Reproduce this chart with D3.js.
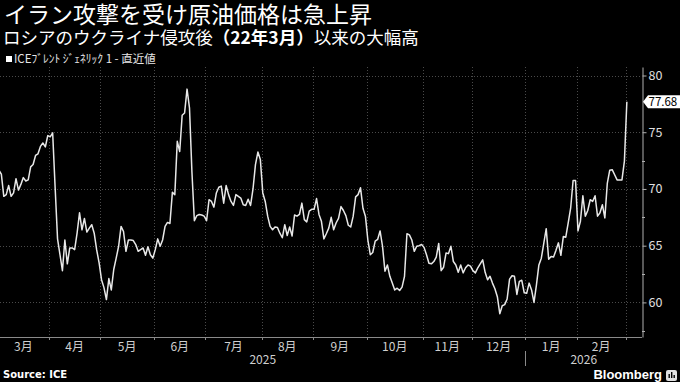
<!DOCTYPE html>
<html>
<head>
<meta charset="utf-8">
<script src="https://cdnjs.cloudflare.com/ajax/libs/d3/7.8.5/d3.min.js"></script>
<style>
  body { margin: 0; background: #000; }
  svg { display: block; }
</style>
</head>
<body>
<svg id="chart" width="680" height="382"></svg>
<script>
// ICE Brent front month, daily settles (trading days only, holidays left out)
const dates = [
  "2025-03-03","2025-03-04","2025-03-05","2025-03-06","2025-03-07","2025-03-10","2025-03-11","2025-03-12","2025-03-13","2025-03-14",
  "2025-03-17","2025-03-18","2025-03-19","2025-03-20","2025-03-21","2025-03-24","2025-03-25","2025-03-26","2025-03-27","2025-03-28","2025-03-31",
  "2025-04-01","2025-04-02","2025-04-03","2025-04-04","2025-04-07","2025-04-08","2025-04-09","2025-04-10","2025-04-11",
  "2025-04-14","2025-04-15","2025-04-16","2025-04-17","2025-04-21","2025-04-22","2025-04-23","2025-04-24","2025-04-25","2025-04-28","2025-04-29","2025-04-30",
  "2025-05-01","2025-05-02","2025-05-05","2025-05-06","2025-05-07","2025-05-08","2025-05-09","2025-05-12","2025-05-13","2025-05-14","2025-05-15","2025-05-16",
  "2025-05-19","2025-05-20","2025-05-21","2025-05-22","2025-05-23","2025-05-26","2025-05-27","2025-05-28","2025-05-29","2025-05-30",
  "2025-06-02","2025-06-03","2025-06-04","2025-06-05","2025-06-06","2025-06-09","2025-06-10","2025-06-11","2025-06-12","2025-06-13",
  "2025-06-16","2025-06-17","2025-06-18","2025-06-19","2025-06-20","2025-06-23","2025-06-24","2025-06-25","2025-06-26","2025-06-27","2025-06-30",
  "2025-07-01","2025-07-02","2025-07-03","2025-07-04","2025-07-07","2025-07-08","2025-07-09","2025-07-10","2025-07-11","2025-07-14","2025-07-15","2025-07-16",
  "2025-07-17","2025-07-18","2025-07-21","2025-07-22","2025-07-23","2025-07-24","2025-07-25","2025-07-28","2025-07-29","2025-07-30","2025-07-31",
  "2025-08-01","2025-08-04","2025-08-05","2025-08-06","2025-08-07","2025-08-08","2025-08-11","2025-08-12","2025-08-13","2025-08-14","2025-08-15",
  "2025-08-18","2025-08-19","2025-08-20","2025-08-21","2025-08-22","2025-08-25","2025-08-26","2025-08-27","2025-08-28","2025-08-29",
  "2025-09-01","2025-09-02","2025-09-03","2025-09-04","2025-09-05","2025-09-08","2025-09-09","2025-09-10","2025-09-11","2025-09-12","2025-09-15",
  "2025-09-16","2025-09-17","2025-09-18","2025-09-19","2025-09-22","2025-09-23","2025-09-24","2025-09-25","2025-09-26","2025-09-29","2025-09-30",
  "2025-10-01","2025-10-02","2025-10-03","2025-10-06","2025-10-07","2025-10-08","2025-10-09","2025-10-10","2025-10-13","2025-10-14","2025-10-15","2025-10-16",
  "2025-10-17","2025-10-20","2025-10-21","2025-10-22","2025-10-23","2025-10-24","2025-10-27","2025-10-28","2025-10-29","2025-10-30","2025-10-31",
  "2025-11-03","2025-11-04","2025-11-05","2025-11-06","2025-11-07","2025-11-10","2025-11-11","2025-11-12","2025-11-13","2025-11-14",
  "2025-11-17","2025-11-18","2025-11-19","2025-11-20","2025-11-21","2025-11-24","2025-11-25","2025-11-26","2025-11-27","2025-11-28",
  "2025-12-01","2025-12-02","2025-12-03","2025-12-04","2025-12-05","2025-12-08","2025-12-09","2025-12-10","2025-12-11","2025-12-12","2025-12-15",
  "2025-12-16","2025-12-17","2025-12-18","2025-12-19","2025-12-22","2025-12-23","2025-12-24","2025-12-26","2025-12-29","2025-12-30","2025-12-31",
  "2026-01-02","2026-01-05","2026-01-06","2026-01-07","2026-01-08","2026-01-09","2026-01-12","2026-01-13","2026-01-14","2026-01-15","2026-01-16",
  "2026-01-19","2026-01-20","2026-01-21","2026-01-22","2026-01-23","2026-01-26","2026-01-27","2026-01-28","2026-01-29","2026-01-30",
  "2026-02-02","2026-02-03","2026-02-04","2026-02-05","2026-02-06","2026-02-09","2026-02-10","2026-02-11","2026-02-12","2026-02-13",
  "2026-02-16","2026-02-17","2026-02-18","2026-02-19","2026-02-20","2026-02-23","2026-02-24","2026-02-25","2026-02-26","2026-02-27",
  "2026-03-02"
];

const brent = [
  71.65,71.3,69.35,69.5,70.3,69.35,69.65,70.9,69.9,70.4,
  71.0,70.7,70.8,71.95,72.15,72.95,73.1,73.75,74.05,73.7,74.7,
  74.6,74.95,70.2,65.6,64.2,62.8,65.5,63.4,64.8,
  64.8,64.65,66.1,67.9,66.4,67.4,66.2,66.55,66.85,66.1,64.65,63.5,
  62.0,61.3,60.25,62.1,61.1,62.9,63.9,64.95,66.7,66.25,64.5,65.5,
  65.5,65.45,65.1,64.5,64.65,64.8,64.15,64.9,64.2,63.9,
  64.65,65.6,64.95,65.5,66.7,67.05,66.95,69.7,69.5,74.2,
  73.3,76.5,76.7,78.8,77.15,71.5,67.2,67.65,67.75,67.7,67.6,
  67.2,69.05,68.9,68.4,69.65,70.15,70.25,68.75,70.3,69.5,68.9,68.55,
  69.5,69.35,69.2,68.6,68.55,69.1,68.55,70.0,72.15,73.25,72.6,
  69.65,68.9,67.6,66.7,66.4,66.65,66.6,66.1,65.7,66.85,65.9,
  66.65,65.85,67.7,67.6,67.75,68.75,67.3,67.1,68.05,68.2,
  68.2,69.15,67.75,67.15,65.6,66.05,66.55,67.5,66.4,67.0,67.4,
  68.45,68.1,67.65,66.8,66.65,67.6,69.3,69.5,70.1,68.3,67.6,
  65.5,64.2,64.4,65.4,65.55,66.3,64.95,62.75,63.3,62.3,61.7,61.1,
  61.25,61.05,61.35,62.3,66.05,65.95,65.5,64.5,64.95,65.0,65.1,
  64.85,64.2,63.45,63.4,63.6,64.0,65.2,62.8,63.1,64.35,
  64.3,64.95,63.6,63.3,62.65,63.3,62.6,63.05,63.3,63.2,
  62.8,62.6,63.05,63.4,63.75,62.65,62.0,62.3,61.7,61.2,60.5,
  59.0,59.7,59.8,60.3,62.05,62.35,62.3,60.7,61.85,61.95,60.85,
  60.8,61.7,61.1,60.0,61.55,63.3,63.9,65.2,66.5,63.8,64.05,
  64.0,64.6,65.25,64.15,65.8,65.75,67.0,68.3,70.75,70.75,
  66.3,67.15,69.4,67.6,68.1,69.05,68.9,69.4,67.6,67.9,
  68.6,67.45,70.5,71.65,71.7,71.25,70.8,70.8,70.8,72.45,
  77.68
];

const monthLabels = ["3月","4月","5月","6月","7月","8月","9月","10月","11月","12月","1月","2月"];
const yearLabels = ["2025", "2026"];
const yTicks = [60, 65, 70, 75, 80];
const yMinorTicks = [57.5, 62.5, 67.5, 72.5];

const title = "イラン攻撃を受け原油価格は急上昇";
const subtitleA = "ロシアのウクライナ侵攻後";
const subtitleB = "（22年3月）";
const subtitleC = "以来の大幅高";
const legendLabel = "ICEﾌﾞﾚﾝﾄ ｼﾞｪﾈﾘｯｸ 1 - 直近値";
const source = "Source: ICE";

const W = 680, H = 382;
const plot = {left: 0, right: 642, top: 67, bottom: 337};
const JP = "'Noto Sans CJK JP', 'Noto Sans', sans-serif";

const svg = d3.select("#chart");
svg.append("rect").attr("width", W).attr("height", H).attr("fill", "#000");

// x is the trading-day position, so holidays leave no gaps
const x = d3.scaleLinear().domain([0.45, 263.2]).range([plot.left, plot.right]);
const y = d3.scaleLinear().domain([56.95, 80.75]).range([plot.bottom, plot.top]);

const parsed = dates.map(d3.timeParse("%Y-%m-%d"));
let bounds = [];
parsed.forEach((d, i) => {
    if (i === 0 || d.getMonth() !== parsed[i - 1].getMonth()) bounds.push({pos: i - 0.5, date: d});
});

// grid
const grid = svg.append("g").attr("stroke", "#4a4a4a").attr("stroke-width", 1).attr("stroke-dasharray", "1,2");
grid.selectAll("line.h").data(yTicks).enter().append("line")
    .attr("x1", plot.left).attr("x2", plot.right)
    .attr("y1", d => Math.round(y(d)) + 0.5).attr("y2", d => Math.round(y(d)) + 0.5);
grid.selectAll("line.v").data(bounds.slice(1)).enter().append("line")
    .attr("x1", d => Math.round(x(d.pos)) + 0.5).attr("x2", d => Math.round(x(d.pos)) + 0.5)
    .attr("y1", plot.top).attr("y2", plot.bottom);

// price line
svg.append("clipPath").attr("id", "clip").append("rect")
    .attr("x", plot.left).attr("y", plot.top)
    .attr("width", plot.right - plot.left).attr("height", plot.bottom - plot.top);
const line = d3.line().x((d, i) => x(i)).y(d => y(d));
svg.append("path")
    .attr("clip-path", "url(#clip)")
    .attr("d", line(brent))
    .attr("fill", "none")
    .attr("stroke", "#e8e8e8")
    .attr("stroke-width", 1.5)
    .attr("stroke-linejoin", "round");

// bottom axis
svg.append("line")
    .attr("x1", plot.left).attr("x2", plot.right)
    .attr("y1", plot.bottom + 0.5).attr("y2", plot.bottom + 0.5)
    .attr("stroke", "#8a8a8a");
svg.selectAll("line.mtick").data(bounds.slice(1)).enter().append("line")
    .attr("x1", d => Math.round(x(d.pos)) + 0.5).attr("x2", d => Math.round(x(d.pos)) + 0.5)
    .attr("y1", plot.bottom).attr("y2", plot.bottom + 3)
    .attr("stroke", "#8a8a8a");
svg.selectAll("text.month").data(monthLabels).enter().append("text")
    .attr("x", (d, k) => x((bounds[k].pos + bounds[k + 1].pos) / 2))
    .attr("y", 351)
    .attr("text-anchor", "middle")
    .attr("font-family", JP).attr("font-size", 12)
    .attr("fill", "#cfcfcf")
    .text(d => d);

const janBound = bounds.find(b => b.date.getMonth() === 0);
const xJan = Math.round(x(janBound.pos)) + 0.5;
svg.append("line")
    .attr("x1", xJan).attr("x2", xJan).attr("y1", 351).attr("y2", 366)
    .attr("stroke", "#8a8a8a");
svg.selectAll("text.year").data(yearLabels).enter().append("text")
    .attr("x", (d, k) => k === 0 ? (plot.left + xJan) / 2 : (xJan + plot.right) / 2)
    .attr("y", 364)
    .attr("text-anchor", "middle")
    .attr("font-family", JP).attr("font-size", 12)
    .attr("fill", "#cfcfcf")
    .text(d => d);

// right axis
const yAxis = d3.axisRight(y).tickValues(yTicks).tickSize(4).tickSizeOuter(0).tickPadding(2);
const ya = svg.append("g").attr("transform", "translate(" + (plot.right + 0.5) + ",0)").call(yAxis);
ya.select(".domain").attr("stroke", "#b0b0b0");
ya.selectAll(".tick line").attr("stroke", "#b0b0b0");
ya.selectAll(".tick text").attr("fill", "#e0e0e0").attr("font-family", JP).attr("font-size", 12.5);
svg.selectAll("line.minor").data(yMinorTicks).enter().append("line")
    .attr("x1", plot.right).attr("x2", plot.right + 3)
    .attr("y1", d => Math.round(y(d)) + 0.5).attr("y2", d => Math.round(y(d)) + 0.5)
    .attr("stroke", "#b0b0b0");

// last value tag
const lastY = y(brent[brent.length - 1]);
svg.append("path")
    .attr("d", "M" + (plot.right + 1) + "," + lastY + "L" + (plot.right + 6) + "," + (lastY - 6.5) +
        "H680V" + (lastY + 6.5) + "H" + (plot.right + 6) + "Z")
    .attr("fill", "#ffffff");
svg.append("text")
    .attr("x", plot.right + 6.5).attr("y", lastY + 4.2)
    .attr("font-family", JP).attr("font-size", 11.5)
    .attr("fill", "#000")
    .text(brent[brent.length - 1].toFixed(2));

// titles
svg.append("text").attr("x", 4).attr("y", 23)
    .attr("font-family", JP).attr("font-size", 23).attr("fill", "#fff")
    .text(title);
const sub = svg.append("text").attr("x", 3).attr("y", 43.5)
    .attr("font-family", JP).attr("font-size", 17.5).attr("fill", "#fff");
sub.append("tspan").text(subtitleA);
sub.append("tspan").attr("font-weight", "bold").text(subtitleB);
sub.append("tspan").text(subtitleC);

// legend
svg.append("rect").attr("x", 6).attr("y", 56).attr("width", 6).attr("height", 6).attr("fill", "#fff");
svg.append("text").attr("x", 14).attr("y", 62.5)
    .attr("font-family", JP).attr("font-size", 11.5).attr("fill", "#e6e6e6")
    .text(legendLabel);

// footer
svg.append("text").attr("x", 3).attr("y", 378)
    .attr("font-family", "'DejaVu Sans', sans-serif").attr("font-weight", "bold")
    .attr("font-size", 10).attr("fill", "#fff")
    .text(source);
svg.append("text").attr("x", 662).attr("y", 379)
    .attr("text-anchor", "end")
    .attr("font-family", "'Liberation Sans', Arial, sans-serif").attr("font-weight", "bold")
    .attr("font-size", 13).attr("fill", "#fff")
    .text("Bloomberg");
const logo = svg.append("g").attr("transform", "translate(666,370)");
logo.append("rect").attr("width", 11).attr("height", 11).attr("rx", 2).attr("fill", "#e0e0e0");
[[2.5, 4], [5, 2], [7.5, 5]].forEach(b => {
    logo.append("rect").attr("x", b[0]).attr("y", b[1]).attr("width", 1.4).attr("height", 8 - b[1])
        .attr("fill", "#000");
});
</script>
</body>
</html>
